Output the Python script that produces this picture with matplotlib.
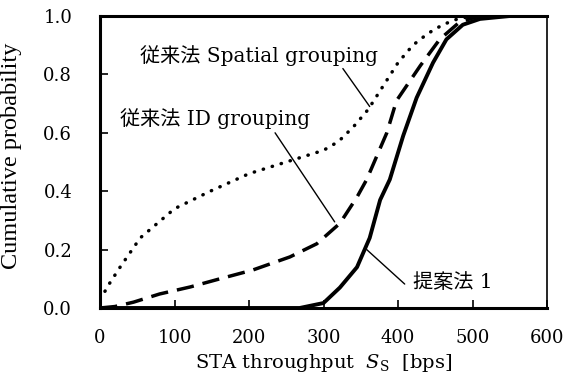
import matplotlib
matplotlib.use("Agg")
import matplotlib.pyplot as plt

plt.rcParams["font.family"] = ["DejaVu Serif", "Noto Sans CJK JP"]
plt.rcParams["mathtext.fontset"] = "dejavuserif"

# ---- DATA ----
spatial_x = [0, 5, 13, 27, 54, 100, 148, 200, 250, 300, 320, 340, 360, 380, 400,
             420, 440, 460, 480, 500, 600]
spatial_y = [0.03, 0.05, 0.085, 0.14, 0.24, 0.34, 0.40, 0.46, 0.50, 0.54, 0.57,
             0.62, 0.68, 0.76, 0.84, 0.90, 0.94, 0.97, 0.99, 1.0, 1.0]

id_x = [0, 20, 45, 80, 121, 161, 205, 255, 291, 322, 345, 358, 385, 398, 430,
        456, 483, 510, 600]
id_y = [0.0, 0.005, 0.02, 0.048, 0.072, 0.10, 0.13, 0.175, 0.22, 0.29, 0.38,
        0.44, 0.60, 0.71, 0.83, 0.92, 0.98, 1.0, 1.0]

prop_x = [0, 268, 300, 322, 345, 362, 376, 389, 407, 425, 447, 465, 487, 510,
          550, 600]
prop_y = [0.0, 0.0, 0.017, 0.07, 0.14, 0.24, 0.37, 0.44, 0.59, 0.72, 0.84,
          0.92, 0.97, 0.99, 1.0, 1.0]

x_ticks = [0, 100, 200, 300, 400, 500, 600]
y_ticks = [0.0, 0.2, 0.4, 0.6, 0.8, 1.0]

# ---- PLOT ----
fig = plt.figure(figsize=(5.71, 3.80), dpi=100)
ax = fig.add_axes([100 / 571, 1 - 308 / 380, 447 / 571, 292 / 380])

ax.plot(spatial_x, spatial_y, color="black", lw=2.5, linestyle=(0, (0.1, 2.6)),
        dash_capstyle="round")
ax.plot(id_x, id_y, color="black", lw=2.5, linestyle=(0, (5, 2.6)))
ax.plot(prop_x, prop_y, color="black", lw=2.8)

ax.set_xlim(0, 600)
ax.set_ylim(0, 1.0)
ax.set_xticks(x_ticks)
ax.set_yticks(y_ticks)
ax.set_yticklabels([f"{v:.1f}" for v in y_ticks])
ax.tick_params(direction="in", length=6, width=1.2, labelsize=13)
ax.tick_params(axis="y", pad=20)
ax.tick_params(axis="x", pad=15)
for side in ["left", "bottom", "top"]:
    ax.spines[side].set_linewidth(2.2)
ax.spines["right"].set_linewidth(1.2)

ax.set_xlabel(r"STA throughput  $S_{\mathrm{S}}$  [bps]", fontsize=14, labelpad=4)
ax.set_ylabel("Cumulative probability", fontsize=17.5, family="Liberation Serif")
ax.yaxis.set_label_coords(-78 / 447, 0.52)

# ---- ANNOTATIONS ----
line_kw = dict(arrowstyle="-", color="black", lw=1, shrinkA=0, shrinkB=0)
ax.text(54, 0.866, "従来法 Spatial grouping", fontsize=14.5, ha="left", va="center")
ax.annotate("", xy=(362, 0.69), xytext=(326, 0.82), arrowprops=line_kw)
ax.text(27, 0.65, "従来法 ID grouping", fontsize=14.5, ha="left", va="center")
ax.annotate("", xy=(315, 0.295), xytext=(235, 0.60), arrowprops=line_kw)
ax.text(420, 0.086, "提案法 1", fontsize=14.5, ha="left", va="center")
ax.annotate("", xy=(358, 0.20), xytext=(409, 0.082), arrowprops=line_kw)

fig.savefig("out.png", dpi=100)
